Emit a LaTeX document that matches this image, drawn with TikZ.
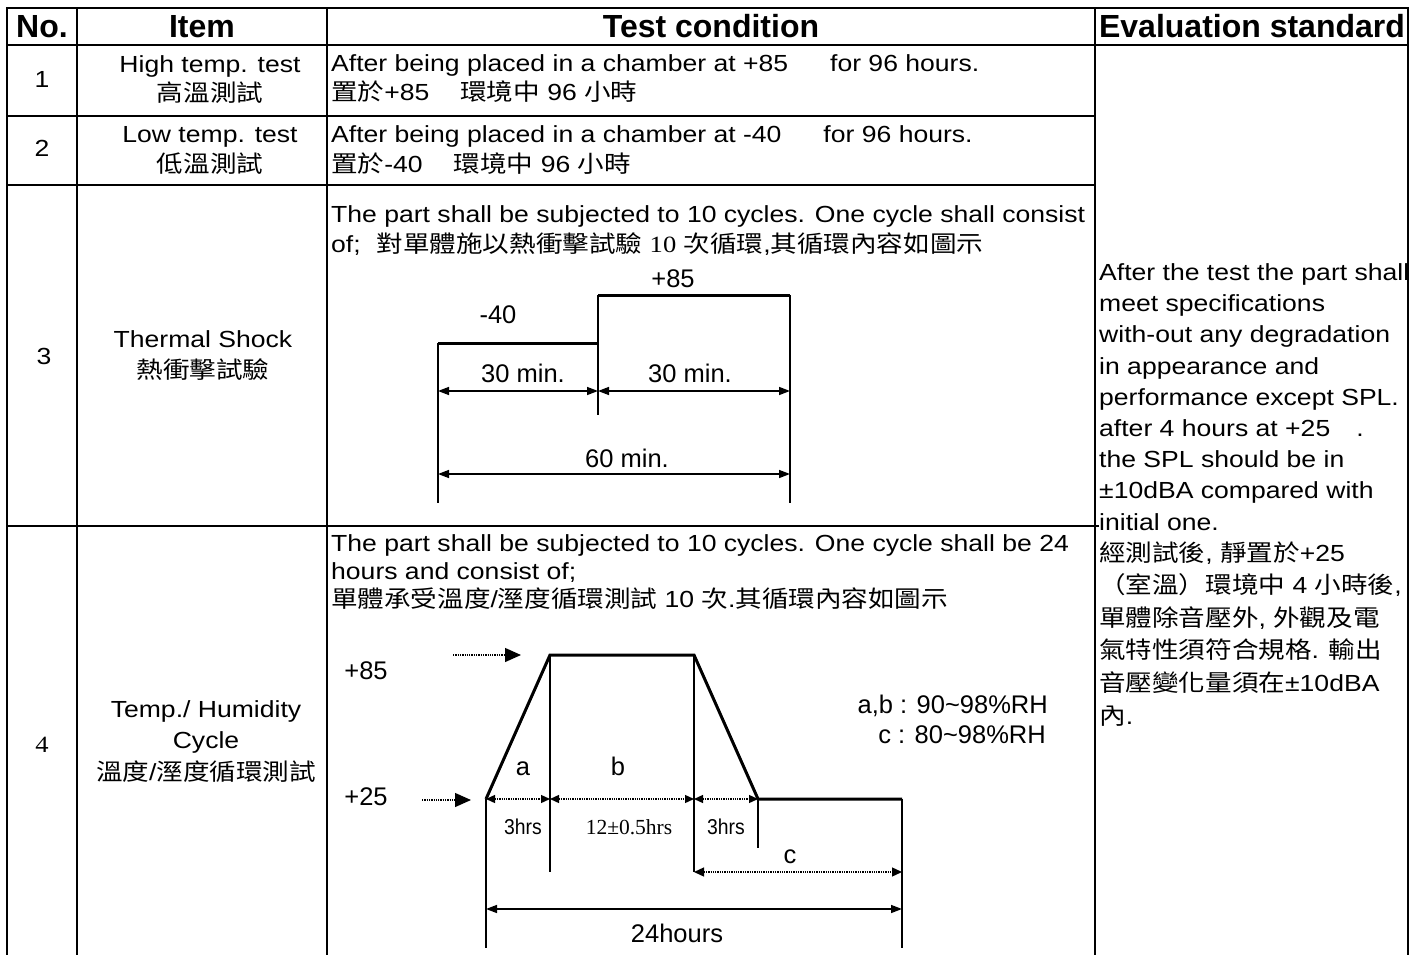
\documentclass[tikz,border=0pt]{standalone}
\usepackage{fontspec}
\setmainfont{Liberation Sans}[FakeStretch=1.14]
\newfontfamily\cjk{Noto Sans CJK TC}[FakeStretch=1.14]
\newfontfamily\serifwide{Liberation Serif}[FakeStretch=1.14]
\newfontfamily\labelsans{Liberation Sans}
\newfontfamily\labelserif{Liberation Serif}
\newfontfamily\narrowsans{Liberation Sans}[FakeStretch=0.9]
\usetikzlibrary{arrows.meta}

\begin{document}
\begin{tikzpicture}[x=1pt,y=-1pt,>={Triangle[length=11pt,width=8pt]},
  grid line/.style={line width=2pt,line cap=rect},
  head text/.style={anchor=base,inner sep=0pt,font=\labelsans\bfseries\fontsize{32}{38}\selectfont},
  cell text/.style={anchor=base west,inner sep=0pt,align=left,font=\fontsize{23.3}{29.5}\selectfont},
  item text/.style={anchor=base,inner sep=0pt,align=center,font=\fontsize{23.3}{30.5}\selectfont},
  chart label/.style={anchor=base,inner sep=0pt,font=\labelsans\fontsize{25.5}{30}\selectfont},
  hour label/.style={anchor=base,inner sep=0pt,font=\narrowsans\fontsize{21.5}{26}\selectfont},
  profile/.style={line width=3pt,line join=miter},
  thin line/.style={line width=1.5pt},
  dot arrow/.style={densely dotted,line width=1.3pt}]

  \useasboundingbox (0,0) rectangle (1425,955);

  % table grid
  \draw[grid line] (7,8) -- (1408,8);
  \draw[grid line] (7,45) -- (1408,45);
  \foreach \y in {116,185} \draw[grid line] (7,\y) -- (1095,\y);
  \draw[grid line] (7,526) -- (1098,526);
  \foreach \x in {7,77,327,1095,1408} \draw[grid line] (\x,8) -- (\x,955);

  % header
  \node[head text] (hNo) at (42,38) {No.};
  \node[head text] (hItem) at (202,38) {Item};
  \node[head text] (hCond) at (711,38) {Test condition};
  \node[head text] (hEval) at (1252,38) {Evaluation standard};

  % row numbers
  \node[item text] (n1) at (42,88) {1};
  \node[item text] (n2) at (42,157) {2};
  \node[item text] (n3) at (44,364) {3};
  \node[item text,font=\serifwide\fontsize{23.3}{30}\selectfont] (n4) at (42,752) {4};

  % items (placed at the baseline of their last line)
  \node[item text,font=\fontsize{23.3}{29}\selectfont] (item1) at (210,102)
    {High temp. test\\{\cjk 高溫測試}};
  \node[item text] (item2) at (210,173)
    {Low temp. test\\{\cjk 低溫測試}};
  \node[item text] (item3) at (203,378)
    {Thermal Shock\\{\cjk 熱衝擊試驗}};
  \node[item text,font=\fontsize{23.3}{31.5}\selectfont] (item4) at (206,780)
    {Temp./ Humidity\\Cycle\\{\cjk 溫度}/{\cjk 溼度循環測試}};

  % test conditions
  \node[cell text] (cond1) at (331,101)
    {After being placed in a chamber at +85\hspace{42pt}for 96 hours.\\
     {\cjk 置於}+85\hspace{31pt}{\cjk 環境中} 96 {\cjk 小時}};
  \node[cell text] (cond2) at (331,172)
    {After being placed in a chamber at -40\hspace{42pt}for 96 hours.\\
     {\cjk 置於}-40\hspace{31pt}{\cjk 環境中} 96 {\cjk 小時}};
  \node[cell text,font=\fontsize{23.3}{30}\selectfont] (cond3) at (331,252)
    {The part shall be subjected to 10 cycles. One cycle shall consist\\
     of;\hspace{16pt}{\cjk 對單體施以熱衝擊試驗} {\serifwide 10} {\cjk 次循環},{\cjk 其循環內容如圖示}};
  \node[cell text,font=\fontsize{23.3}{28}\selectfont] (cond4) at (331,607)
    {The part shall be subjected to 10 cycles. One cycle shall be 24\\
     hours and consist of;\\
     {\cjk 單體承受溫度}/{\cjk 溼度循環測試} 10 {\cjk 次}.{\cjk 其循環內容如圖示}};

  % evaluation standard
  \node[cell text,font=\fontsize{23.3}{31.2}\selectfont] (evalEn) at (1099,530)
    {After the test the part shall\\
     meet specifications\\
     with-out any degradation\\
     in appearance and\\
     performance except SPL.\\
     after 4 hours at +25\hspace{26pt}.\\
     the SPL should be in\\
     ±10dBA compared with\\
     initial one.};
  \node[cell text,font=\fontsize{23.3}{32.6}\selectfont] (evalZh) at (1099,724)
    {{\cjk 經測試後}, {\cjk 靜置於}+25\\
     {\cjk （室溫）環境中} 4 {\cjk 小時後},\\
     {\cjk 單體除音壓外}, {\cjk 外觀及電}\\
     {\cjk 氣特性須符合規格}. {\cjk 輸出}\\
     {\cjk 音壓變化量須在}±10dBA\\
     {\cjk 內}.};

  % thermal shock cycle
  \coordinate (coldL) at (438,343);
  \coordinate (coldR) at (598,343);
  \coordinate (hotL) at (598,295);
  \coordinate (hotR) at (790,295);
  \coordinate (shockFoot) at (0,503);
  \coordinate (midFoot) at (0,415);
  \coordinate (halfDim) at (0,391);
  \coordinate (fullDim) at (0,474);
  \draw[profile] (coldL) -- (coldR);
  \draw[profile] (hotL) -- (hotR);
  \draw[thin line] (coldL) -- (coldL |- shockFoot);
  \draw[thin line] (hotL) -- (hotL |- midFoot);
  \draw[thin line] (hotR) -- (hotR |- shockFoot);
  \draw[thin line,<->] (coldL |- halfDim) -- (hotL |- halfDim);
  \draw[thin line,<->] (hotL |- halfDim) -- (hotR |- halfDim);
  \draw[thin line,<->] (coldL |- fullDim) -- (hotR |- fullDim);
  \node[chart label] (hotTemp) at (673,287) {+85};
  \node[chart label] (coldTemp) at (498,323) {-40};
  \node[chart label] (coldTime) at (523,382) {30 min.};
  \node[chart label] (hotTime) at (690,382) {30 min.};
  \node[chart label] (shockTime) at (627,467) {60 min.};

  % temperature / humidity cycle
  \coordinate (rampStart) at (486,799);
  \coordinate (peakL) at (550,655);
  \coordinate (peakR) at (694,655);
  \coordinate (rampEnd) at (758,799);
  \coordinate (soakEnd) at (902,799);
  \coordinate (chartFoot) at (0,948);
  \coordinate (stepFoot) at (0,872);
  \coordinate (shortFoot) at (0,848);
  \coordinate (totalDim) at (0,909);
  \coordinate (hotFrom) at (453,655);
  \coordinate (hotTo) at (521,655);
  \coordinate (roomFrom) at (422,800);
  \coordinate (roomTo) at (471,800);
  \draw[profile] (rampStart) -- (peakL) -- (peakR) -- (rampEnd) -- (soakEnd);
  \draw[thin line] (rampStart) -- (rampStart |- chartFoot);
  \draw[thin line] (peakL) -- (peakL |- stepFoot);
  \draw[thin line] (peakR) -- (peakR |- stepFoot);
  \draw[thin line] (rampEnd) -- (rampEnd |- shortFoot);
  \draw[thin line] (soakEnd) -- (soakEnd |- chartFoot);
  \draw[dot arrow,{Triangle[length=9pt,width=8pt]}-{Triangle[length=9pt,width=8pt]}]
    (rampStart) -- (rampStart -| peakL);
  \draw[dot arrow,{Triangle[length=9pt,width=8pt]}-{Triangle[length=9pt,width=8pt]}]
    (rampStart -| peakL) -- (rampStart -| peakR);
  \draw[dot arrow,{Triangle[length=9pt,width=8pt]}-{Triangle[length=9pt,width=8pt]}]
    (rampStart -| peakR) -- (rampEnd);
  \draw[dot arrow,{Triangle[length=10pt,width=9pt]}-{Triangle[length=10pt,width=9pt]}]
    (peakR |- stepFoot) -- (soakEnd |- stepFoot);
  \draw[thin line,<->] (rampStart |- totalDim) -- (soakEnd |- totalDim);
  \draw[dot arrow,-{Triangle[length=16pt,width=14pt]}] (hotFrom) -- (hotTo);
  \draw[dot arrow,-{Triangle[length=16pt,width=14pt]}] (roomFrom) -- (roomTo);
  \node[chart label] (hotLevel) at (366,679) {+85};
  \node[chart label] (roomLevel) at (366,805) {+25};
  \node[chart label] (phaseA) at (523,775) {a};
  \node[chart label] (phaseB) at (618,775) {b};
  \node[chart label] (phaseC) at (790,863) {c};
  \node[hour label] (upTime) at (523,834) {3hrs};
  \node[hour label,font=\labelserif\fontsize{21.5}{26}\selectfont] (soakTime) at (629,834) {12±0.5hrs};
  \node[hour label] (downTime) at (726,834) {3hrs};
  \node[chart label] (cycleTime) at (677,942) {24hours};
  \node[chart label,anchor=base east] (rhAB) at (1048,713) {a,b : 90\textasciitilde98\%RH};
  \node[chart label,anchor=base east] (rhC) at (1046,743) {c : 80\textasciitilde98\%RH};
\end{tikzpicture}
\end{document}
